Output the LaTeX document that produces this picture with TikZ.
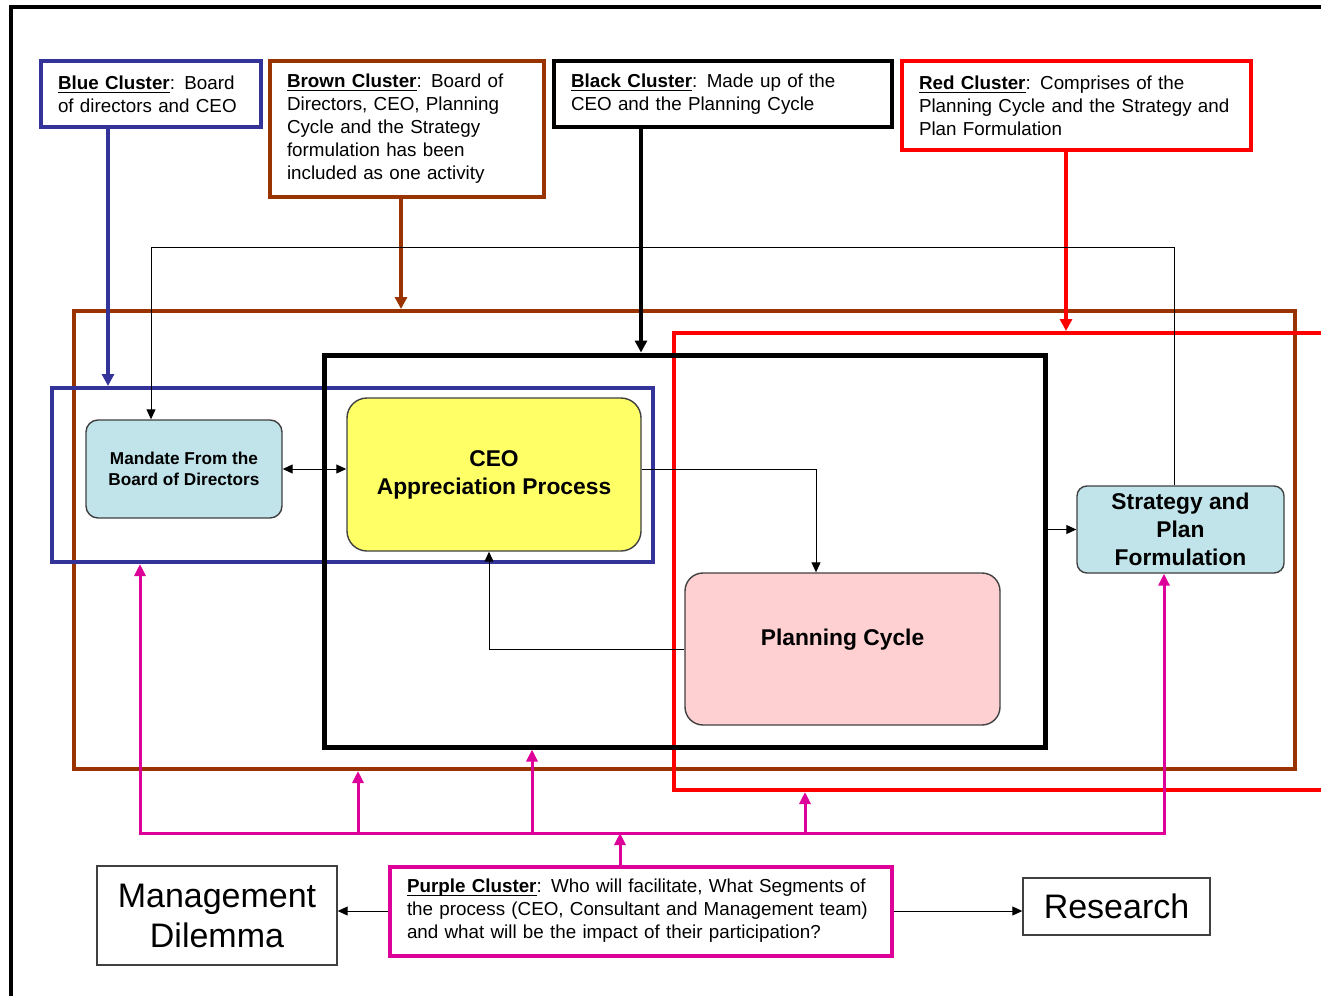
\documentclass[tikz,border=0pt]{standalone}
\usepackage{fontspec}
\setmainfont{Liberation Sans}
\usetikzlibrary{arrows.meta}
\definecolor{cblue}{RGB}{51,51,153}
\definecolor{cbrown}{RGB}{153,51,0}
\definecolor{cred}{RGB}{255,0,0}
\definecolor{cpurple}{RGB}{221,0,153}
\definecolor{fcyan}{RGB}{192,228,234}
\definecolor{fyellow}{RGB}{255,255,102}
\definecolor{fpink}{RGB}{255,208,210}
\newcommand{\clname}[1]{\underline{\smash{\textbf{#1}}}}
\begin{document}
\begin{tikzpicture}[x=0.5pt,y=-0.5pt,
  clusterbox/.style={draw,line width=2pt,align=left,inner xsep=8.5pt,inner ysep=0pt,font=\fontsize{9.4}{11.5}\selectfont},
  grpbox/.style={draw,line width=2pt,inner sep=0pt},
  procbox/.style={draw=black!75,line width=0.7pt,align=center,inner sep=0pt,font=\bfseries\fontsize{11.4}{14}\selectfont},
  endbox/.style={draw=black!75,line width=0.7pt,align=center,inner sep=0pt,font=\fontsize{17}{20}\selectfont},
  conn/.style={line width=0.5pt,>={Triangle[length=5pt,width=4.5pt]},->},
  clusterarr/.style={line width=2pt,>={Triangle[length=6pt,width=6pt]},->},
  pinkarr/.style={draw=cpurple,line width=1.5pt,>={Triangle[length=6pt,width=5.5pt]},->}]
\useasboundingbox (0,0) rectangle (1321,995);
% outer frame
\draw[line width=2pt] (11,1010) -- (11,7) -- (1330,7);
% cluster descriptions
\node[clusterbox,draw=cblue,text width=93pt,minimum height=33pt] (bluelbl) at (151,94)
  {\clname{Blue Cluster}: Board\\of directors and CEO};
\node[clusterbox,draw=cbrown,text width=120pt,minimum height=67.5pt] (brownlbl) at (407,129)
  {\clname{Brown Cluster}: Board of\\Directors, CEO, Planning\\Cycle and the Strategy\\formulation has been\\included as one activity};
\node[clusterbox,draw=black,text width=152pt,minimum height=33pt] (blacklbl) at (723,94)
  {\clname{Black Cluster}: Made up of the\\CEO and the Planning Cycle};
\node[clusterbox,draw=cred,text width=157.5pt,minimum height=44.5pt] (redlbl) at (1076.5,105.5)
  {\clname{Red Cluster}: Comprises of the\\Planning Cycle and the Strategy and\\Plan Formulation};
\node[clusterbox,draw=cpurple,text width=234pt,minimum height=44.5pt] (purplelbl) at (641,911)
  {\clname{Purple Cluster}: Who will facilitate, What Segments of\\the process (CEO, Consultant and Management team)\\and what will be the impact of their participation?};
% cluster frames
\node[grpbox,draw=cbrown,minimum width=610.5pt,minimum height=229pt] (brownGrp) at (684.5,540) {};
\node[grpbox,draw=cred,minimum width=333pt,minimum height=228.5pt] (redGrp) at (1007,561.5) {};
\node[grpbox,draw=cblue,minimum width=300.5pt,minimum height=87pt] (blueGrp) at (352.5,475) {};
\node[grpbox,draw=black,line width=2.5pt,minimum width=360.5pt,minimum height=196pt] (blackGrp) at (684.5,551) {};
% activities
\node[procbox,fill=fcyan,rounded corners=6pt,minimum width=98pt,minimum height=49pt,
  font=\bfseries\fontsize{8.6}{10.5}\selectfont] (mandate) at (184,469) {Mandate From the\\Board of Directors};
\node[procbox,fill=fyellow,rounded corners=10pt,minimum width=147pt,minimum height=76.5pt] (ceo) at (494,474.5)
  {CEO\\Appreciation Process};
\node[procbox,fill=fpink,rounded corners=9pt,minimum width=157.5pt,minimum height=76pt,text depth=11.5pt] (planning) at (842.5,649)
  {Planning Cycle};
\node[procbox,fill=fcyan,rounded corners=5pt,minimum width=103.5pt,minimum height=43.5pt] (strategy) at (1180.5,529.5)
  {Strategy and\\Plan\\Formulation};
\node[endbox,minimum width=120pt,minimum height=49.5pt] (mgmt) at (217,915.5) {Management\\Dilemma};
\node[endbox,minimum width=93.5pt,minimum height=28.5pt] (research) at (1116.5,906.5) {Research};
% cluster arrows
\draw[clusterarr,cblue] (bluelbl.south -| 108,0) -- (108,0 |- blueGrp.north);
\draw[clusterarr,cbrown] (brownlbl.south -| 401,0) -- (401,0 |- brownGrp.north);
\draw[clusterarr,black] (blacklbl.south -| 641,0) -- (641,0 |- blackGrp.north);
\draw[clusterarr,cred] (redlbl.south -| 1066,0) -- (1066,0 |- redGrp.north);
% flow
\draw[conn] (strategy.north -| 1174,0) -- (1174,247) -| (mandate.north -| 151,0);
\draw[conn,<->] (mandate.east) -- (mandate.east -| ceo.west);
\draw[conn] (mandate.east -| ceo.east) -| (planning.north -| 816,0);
\draw[conn] (planning.west) -| (ceo.south -| 489,0);
\draw[conn] (blackGrp.east |- strategy.west) -- (strategy.west);
\draw[conn] (purplelbl.west) -- (purplelbl.west -| mgmt.east);
\draw[conn] (purplelbl.east) -- (purplelbl.east -| research.west);
% purple feed
\coordinate (bus) at (620,833);
\draw[pinkarr] (purplelbl.north -| bus) -- (bus);
\draw[pinkarr,<->] (140,0 |- blueGrp.south) -- (bus -| 140,0) -- (bus -| 1164,0) -- (1164,0 |- strategy.south);
\draw[pinkarr] (bus -| 358,0) -- (358,0 |- brownGrp.south);
\draw[pinkarr] (bus -| 532,0) -- (532,0 |- blackGrp.south);
\draw[pinkarr] (bus -| 805,0) -- (805,0 |- redGrp.south);
\end{tikzpicture}
\end{document}
